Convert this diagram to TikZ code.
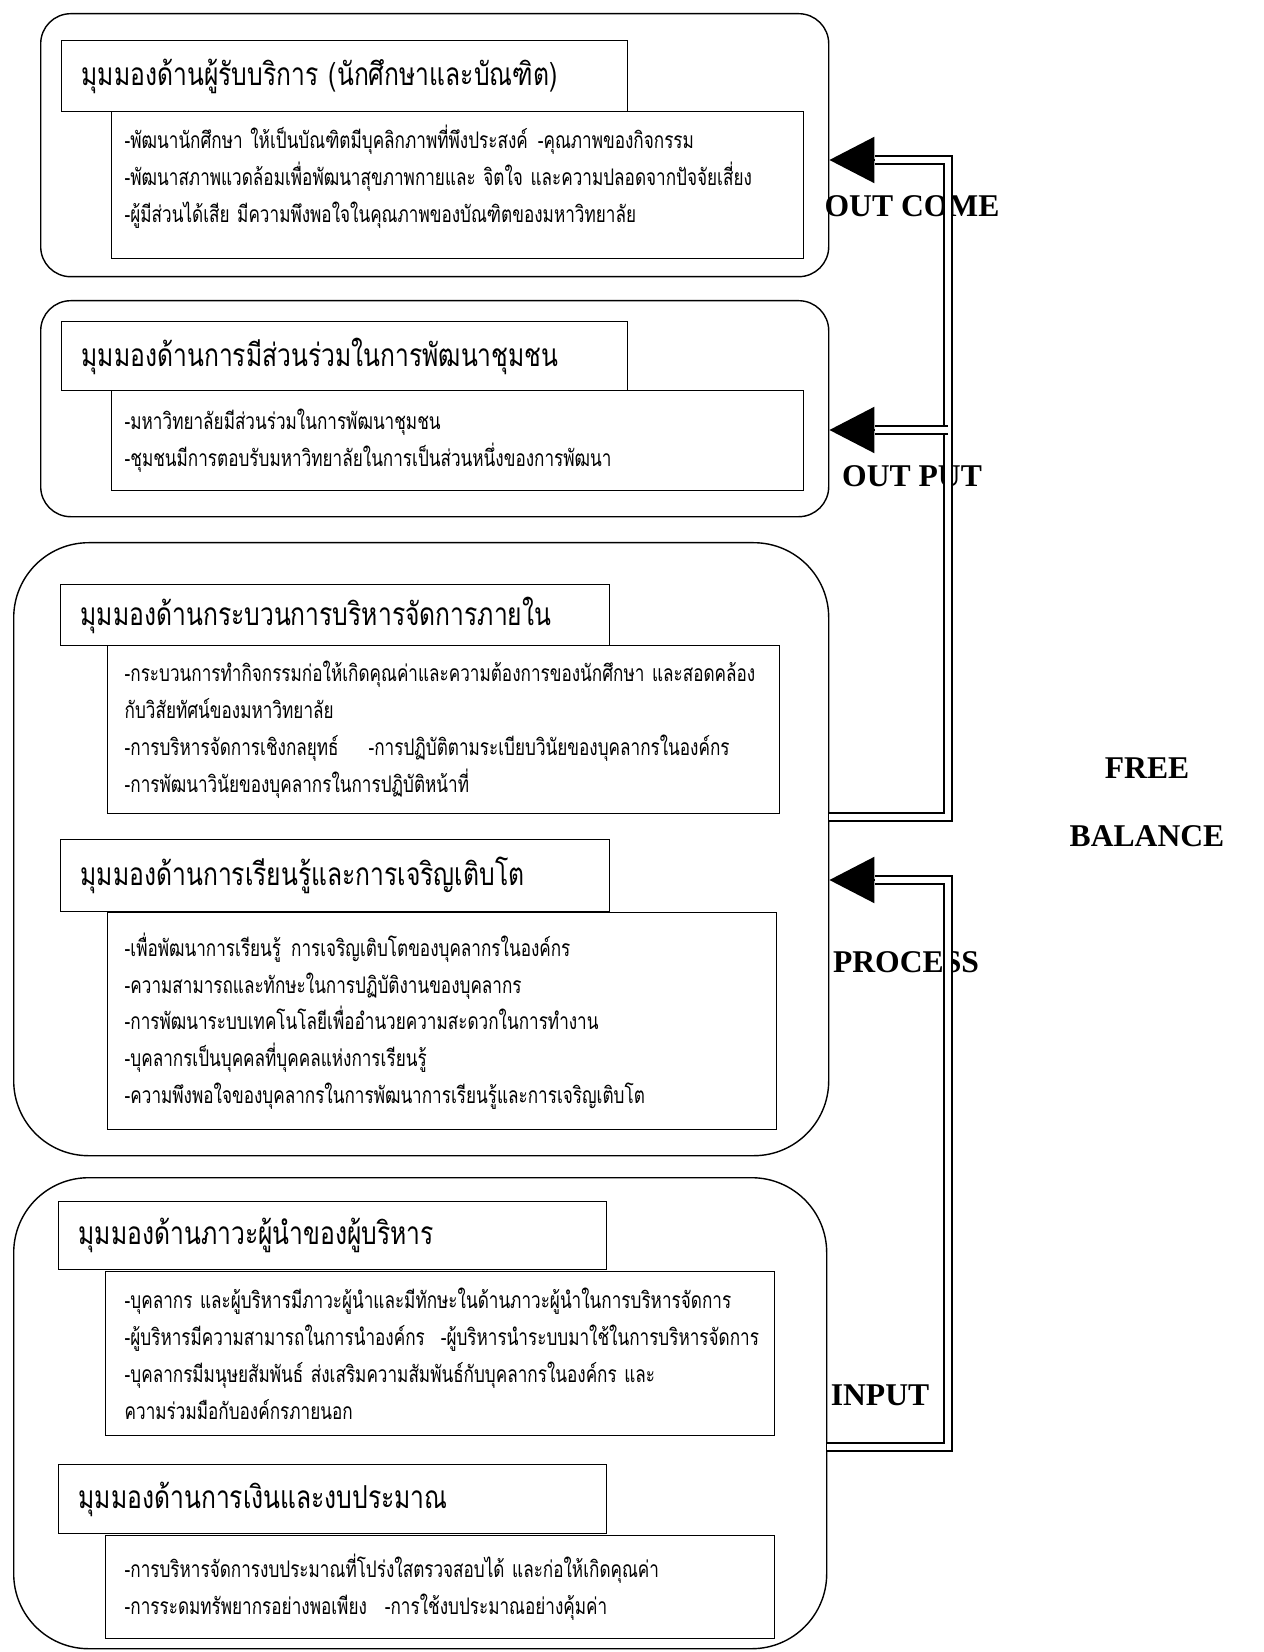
\documentclass[tikz,border=0pt]{standalone}
\usepackage{fontspec}
\setmainfont{Liberation Serif}
\newfontfamily\thaihead[Script=Thai,FakeStretch=0.78]{Loma}
\newfontfamily\thaibody[Script=Thai,FakeStretch=0.75]{Loma}
\usetikzlibrary{arrows.meta,positioning}

\tikzset{
  group/.style={draw, thin, rounded corners=#1, anchor=north west, inner sep=0pt},
  headbox/.style={draw, thin, anchor=north west, inner ysep=0pt, inner xsep=2mm,
    align=left, font=\thaihead\fontsize{9}{11}\selectfont},
  bodybox/.style={draw, thin, anchor=north west, inner ysep=0pt, inner xsep=1.3mm,
    align=left, font=\thaibody\fontsize{6.5}{10.5}\selectfont},
  stage/.style={font=\bfseries\fontsize{9}{11}\selectfont},
  dbl/.style={double, double distance=1.6pt, line width=0.6pt},
  headtip/.style={-{Triangle[length=4.5mm,width=4.6mm]}, line width=0.6pt}
}

\begin{document}
\begin{tikzpicture}
  \useasboundingbox (0,0) rectangle (12.63,-16.52);

  % Outer group boxes
  \node[group=3mm, minimum width=7.88cm, minimum height=2.63cm] (g1) at (0.40,-0.13) {};
  \node[group=3mm, minimum width=7.88cm, minimum height=2.16cm] (g2) at (0.40,-3.00) {};
  \node[group=7.5mm, minimum width=8.15cm, minimum height=6.13cm] (g3) at (0.13,-5.42) {};
  \node[group=7.5mm, minimum width=8.13cm, minimum height=4.71cm] (g4) at (0.13,-11.77) {};

  % Customer perspective
  \node[headbox, minimum height=7.1mm, text width=5.26cm] (t1) at (0.61,-0.40)
    {มุมมองด้านผู้รับบริการ (นักศึกษาและบัณฑิต)};
  \node[bodybox, minimum height=14.7mm, text width=6.66cm] (b1) at (1.11,-1.11)
    {-พัฒนานักศึกษา ให้เป็นบัณฑิตมีบุคลิกภาพที่พึงประสงค์\hspace{1mm}-คุณภาพของกิจกรรม\\
     -พัฒนาสภาพแวดล้อมเพื่อพัฒนาสุขภาพกายและ จิตใจ และความปลอดจากปัจจัยเสี่ยง\\
     -ผู้มีส่วนได้เสีย มีความพึงพอใจในคุณภาพของบัณฑิตของมหาวิทยาลัย\\[-1.4mm]\mbox{}};

  % Community perspective
  \node[headbox, minimum height=6.9mm, text width=5.26cm] (t2) at (0.61,-3.21)
    {มุมมองด้านการมีส่วนร่วมในการพัฒนาชุมชน};
  \node[bodybox, minimum height=10mm, text width=6.66cm] (b2) at (1.11,-3.90)
    {-มหาวิทยาลัยมีส่วนร่วมในการพัฒนาชุมชน\\
     -ชุมชนมีการตอบรับมหาวิทยาลัยในการเป็นส่วนหนึ่งของการพัฒนา};

  % Internal process perspective
  \node[headbox, minimum height=6.1mm, text width=5.09cm] (t3) at (0.60,-5.84)
    {มุมมองด้านกระบวนการบริหารจัดการภายใน};
  \node[bodybox, inner xsep=1.7mm, minimum height=16.8mm, text width=6.38cm] (b3) at (1.07,-6.45)
    {-กระบวนการทำกิจกรรมก่อให้เกิดคุณค่าและความต้องการของนักศึกษา และสอดคล้อง\\
     กับวิสัยทัศน์ของมหาวิทยาลัย\\
     -การบริหารจัดการเชิงกลยุทธ์\hspace{3mm}-การปฏิบัติตามระเบียบวินัยของบุคลากรในองค์กร\\
     -การพัฒนาวินัยของบุคลากรในการปฏิบัติหน้าที่};

  % Learning and growth perspective
  \node[headbox, minimum height=7.2mm, text width=5.09cm] (t4) at (0.60,-8.39)
    {มุมมองด้านการเรียนรู้และการเจริญเติบโต};
  \node[bodybox, inner xsep=1.7mm, minimum height=21.7mm, text width=6.35cm] (b4) at (1.07,-9.12)
    {-เพื่อพัฒนาการเรียนรู้\hspace{1mm}การเจริญเติบโตของบุคลากรในองค์กร\\
     -ความสามารถและทักษะในการปฏิบัติงานของบุคลากร\\
     -การพัฒนาระบบเทคโนโลยีเพื่ออำนวยความสะดวกในการทำงาน\\
     -บุคลากรเป็นบุคคลที่บุคคลแห่งการเรียนรู้\\
     -ความพึงพอใจของบุคลากรในการพัฒนาการเรียนรู้และการเจริญเติบโต};

  % Leadership perspective
  \node[headbox, minimum height=6.8mm, text width=5.08cm] (t5) at (0.58,-12.01)
    {มุมมองด้านภาวะผู้นำของผู้บริหาร};
  \node[bodybox, inner xsep=1.9mm, minimum height=16.4mm, text width=6.31cm] (b5) at (1.05,-12.71)
    {-บุคลากร และผู้บริหารมีภาวะผู้นำและมีทักษะในด้านภาวะผู้นำในการบริหารจัดการ\\
     \mbox{-ผู้บริหารมีความสามารถในการนำองค์กร\hspace{1.6mm}-ผู้บริหารนำระบบมาใช้ในการบริหารจัดการ}\\
     -บุคลากรมีมนุษยสัมพันธ์ ส่งเสริมความสัมพันธ์กับบุคลากรในองค์กร และ\\
     ความร่วมมือกับองค์กรภายนอก};

  % Finance perspective
  \node[headbox, minimum height=6.9mm, text width=5.08cm] (t6) at (0.58,-14.64)
    {มุมมองด้านการเงินและงบประมาณ};
  \node[bodybox, inner xsep=1.9mm, minimum height=10.3mm, text width=6.31cm] (b6) at (1.05,-15.35)
    {-การบริหารจัดการงบประมาณที่โปร่งใสตรวจสอบได้ และก่อให้เกิดคุณค่า\\
     -การระดมทรัพยากรอย่างพอเพียง\hspace{1.8mm}-การใช้งบประมาณอย่างคุ้มค่า};

  % Stage labels
  \node[stage] (outcome) at (9.12,-2.06) {OUT COME};
  \node[stage] (output) at (9.12,-4.76) {OUT PUT};
  \node[stage] (process) at (9.06,-9.62) {PROCESS};
  \node[stage] (input) at (8.80,-13.95) {INPUT};
  \node[stage] (free) at (11.47,-7.68) {FREE};
  \node[stage] (balance) at (11.47,-8.36) {BALANCE};

  % Feedback lines
  \coordinate (r1) at (9.48,-1.60);
  \coordinate (r2) at (9.48,-4.30);
  \coordinate (r3) at (9.48,-8.17);
  \coordinate (r4) at (9.48,-8.80);
  \coordinate (r5) at (9.48,-14.47);
  \coordinate (a1) at (8.75,-1.60);
  \coordinate (a2) at (8.75,-4.30);
  \coordinate (a4) at (8.75,-8.80);

  \draw[dbl] (g3.east |- r3) -- (r3) -- (r1) -- (a1);
  \draw[dbl] (r2) -- (a2);
  \draw[dbl] (g4.east |- r5) -- (r5) -- (r4) -- (a4);

  \draw[headtip] (a1) -- (g1.east |- a1);
  \draw[headtip] (a2) -- (g2.east |- a2);
  \draw[headtip] (a4) -- (g3.east |- a4);
\end{tikzpicture}
\end{document}
